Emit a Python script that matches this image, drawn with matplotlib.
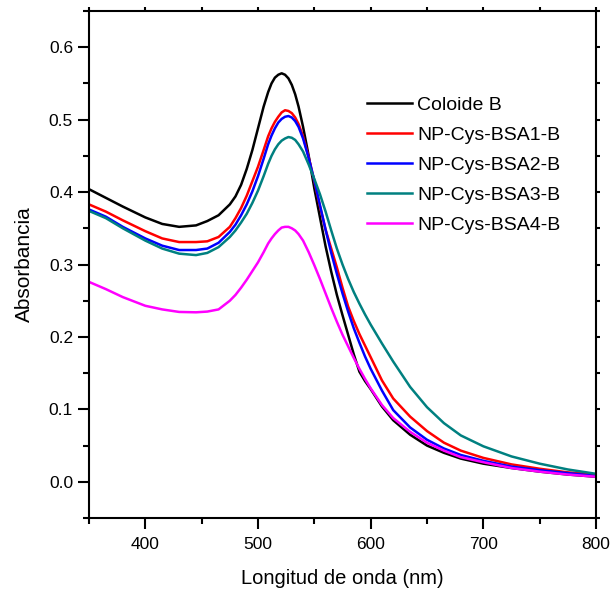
import matplotlib
matplotlib.use('Agg')
import matplotlib.pyplot as plt
from matplotlib.ticker import MultipleLocator

plt.rcParams['font.family'] = ['Liberation Sans', 'DejaVu Sans']

# longitud de onda (nm)
wl = [350, 365, 380, 400, 415, 430, 445, 455, 465, 475, 480, 485, 490, 495,
      500, 505, 509, 512, 515, 518, 521, 524, 527, 530, 533, 536, 540, 545,
      550, 555, 560, 565, 570, 575, 580, 585, 590, 595, 600, 610, 620, 635,
      650, 665, 680, 700, 725, 750, 775, 800]

coloide_b = [0.404, 0.392, 0.380, 0.365, 0.356, 0.352, 0.354, 0.360, 0.368, 0.383,
             0.394, 0.410, 0.432, 0.458, 0.488, 0.518, 0.538, 0.550, 0.558, 0.562,
             0.564, 0.562, 0.557, 0.548, 0.535, 0.518, 0.490, 0.450, 0.405, 0.365,
             0.325, 0.290, 0.258, 0.230, 0.203, 0.176, 0.152, 0.139, 0.128, 0.104,
             0.085, 0.065, 0.050, 0.040, 0.032, 0.025, 0.019, 0.014, 0.010, 0.007]

bsa1 = [0.383, 0.373, 0.361, 0.346, 0.336, 0.331, 0.331, 0.332, 0.338, 0.352,
        0.364, 0.378, 0.395, 0.415, 0.435, 0.458, 0.477, 0.488, 0.497, 0.504,
        0.510, 0.513, 0.512, 0.509, 0.503, 0.494, 0.477, 0.448, 0.415, 0.380,
        0.348, 0.322, 0.296, 0.268, 0.242, 0.222, 0.204, 0.188, 0.172, 0.140,
        0.115, 0.090, 0.070, 0.054, 0.043, 0.033, 0.024, 0.018, 0.013, 0.010]

bsa2 = [0.376, 0.366, 0.352, 0.336, 0.326, 0.320, 0.320, 0.322, 0.330, 0.345,
        0.355, 0.368, 0.383, 0.401, 0.422, 0.446, 0.466, 0.478, 0.488, 0.496,
        0.501, 0.504, 0.505, 0.503, 0.498, 0.490, 0.474, 0.447, 0.416, 0.382,
        0.348, 0.316, 0.287, 0.260, 0.235, 0.212, 0.192, 0.173, 0.156, 0.126,
        0.099, 0.075, 0.058, 0.046, 0.037, 0.029, 0.021, 0.016, 0.012, 0.008]

bsa3 = [0.374, 0.364, 0.350, 0.333, 0.322, 0.315, 0.313, 0.316, 0.324, 0.338,
        0.347, 0.358, 0.370, 0.385, 0.402, 0.422, 0.439, 0.450, 0.459, 0.466,
        0.471, 0.474, 0.476, 0.475, 0.472, 0.466, 0.456, 0.438, 0.418, 0.397,
        0.373, 0.347, 0.322, 0.300, 0.280, 0.262, 0.246, 0.231, 0.217, 0.191,
        0.166, 0.131, 0.103, 0.081, 0.064, 0.049, 0.035, 0.025, 0.017, 0.011]

bsa4 = [0.276, 0.266, 0.255, 0.243, 0.238, 0.2345, 0.234, 0.235, 0.238, 0.250,
        0.258, 0.268, 0.279, 0.291, 0.303, 0.317, 0.329, 0.336, 0.342, 0.347,
        0.351, 0.352, 0.352, 0.350, 0.347, 0.342, 0.333, 0.317, 0.299, 0.280,
        0.260, 0.240, 0.221, 0.203, 0.187, 0.171, 0.156, 0.142, 0.129, 0.106,
        0.088, 0.069, 0.054, 0.043, 0.034, 0.027, 0.019, 0.014, 0.010, 0.007]

series = [coloide_b, bsa1, bsa2, bsa3, bsa4]
labels = ['Coloide B', 'NP-Cys-BSA1-B', 'NP-Cys-BSA2-B', 'NP-Cys-BSA3-B', 'NP-Cys-BSA4-B']
colors = ['black', '#ff0000', '#0000ff', '#008080', '#ff00ff']

fig = plt.figure(figsize=(6.12, 5.92), dpi=100)
ax = fig.add_axes([0.1454, 0.125, 0.8285, 0.8564])

for y, lab, c in zip(series, labels, colors):
    ax.plot(wl, y, color=c, lw=1.8, label=lab, solid_joinstyle='round')

ax.set_xlim(350, 800)
ax.set_ylim(-0.05, 0.65)
ax.xaxis.set_major_locator(MultipleLocator(100))
ax.xaxis.set_minor_locator(MultipleLocator(50))
ax.yaxis.set_minor_locator(MultipleLocator(0.05))
ax.set_yticks([0.0, 0.1, 0.2, 0.3, 0.4, 0.5, 0.6])
ax.set_yticklabels(['0.0', '0.1', '0.2', '0.3', '0.4', '0.5', '0.6'])

for s in ax.spines.values():
    s.set_linewidth(1.5)

ax.tick_params(which='major', direction='out', length=8, width=1.5, labelsize=12.5,
               top=True, right=True)
ax.tick_params(axis='x', which='major', pad=6)
ax.tick_params(which='minor', direction='out', length=4.5, width=1.5, top=True, right=True)
ax.tick_params(axis='both', which='both', labeltop=False, labelright=False)
# small marks on the top and right frame
for t in ax.xaxis.get_major_ticks() + ax.xaxis.get_minor_ticks():
    t.tick2line.set_markersize(3)
for t in ax.yaxis.get_major_ticks() + ax.yaxis.get_minor_ticks():
    t.tick2line.set_markersize(3)

ax.set_xlabel('Longitud de onda (nm)', fontsize=14.5, labelpad=12)
ax.set_ylabel('Absorbancia', fontsize=15, labelpad=11)

ax.legend(loc='upper left', bbox_to_anchor=(0.548, 0.832), frameon=False, fontsize=14,
          handlelength=2.3, handletextpad=0.3, labelspacing=0.64, borderpad=0,
          borderaxespad=0)

fig.savefig('out.png', dpi=100)
